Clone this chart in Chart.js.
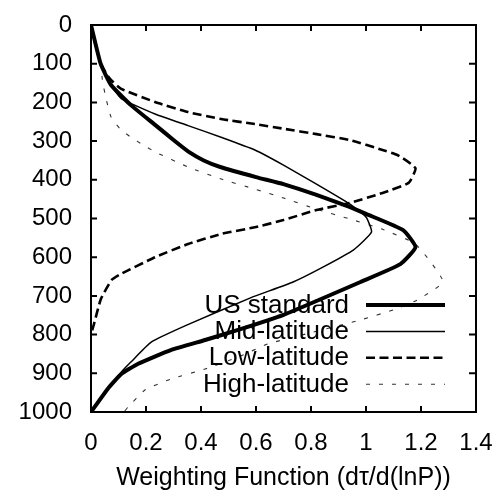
<!DOCTYPE html>
<html>
<head>
<meta charset="utf-8">
<script src="https://cdn.jsdelivr.net/npm/chart.js@4.4.1/dist/chart.umd.min.js"></script>
<style>
  body { margin: 0; background: #fff; }
  #wrap { width: 500px; height: 490px; }
</style>
</head>
<body>
<div id="wrap"><canvas id="wf-chart" width="500" height="490"></canvas></div>
<script>
// tick labels
const xTickLabels = ['0', '0.2', '0.4', '0.6', '0.8', '1', '1.2', '1.4'];
const yTickLabels = ['0', '100', '200', '300', '400', '500', '600', '700', '800', '900', '1000'];

const seriesNames = ['US standard', 'Mid-latitude', 'Low-latitude', 'High-latitude'];

// US standard: weighting function (x) vs pressure (hPa)
const usX = [0, 0.035, 0.073, 0.145, 0.233, 0.30, 0.36, 0.41, 0.47, 0.6, 0.7, 0.82, 0.94, 1.0, 1.135, 1.18, 1.125, 0.98, 0.7, 0.535, 0.415, 0.29, 0.17, 0.11, 0.06, 0];
const usP = [0, 100, 155, 207, 258, 297, 330, 350, 367, 393, 411, 439, 470, 488, 530, 574, 618, 664, 749, 788, 814, 840, 876, 902, 941, 1000];

// Mid-latitude
const midX = [0, 0.035, 0.073, 0.11, 0.233, 0.353, 0.473, 0.596, 0.7, 0.82, 0.94, 1.0, 1.02, 0.955, 0.845, 0.735, 0.58, 0.35, 0.22, 0.145, 0.11, 0.06, 0];
const midP = [0, 100, 155, 190, 230, 260, 290, 323, 362, 411, 462, 496, 535, 581, 625, 664, 705, 775, 819, 871, 897, 941, 1000];

// Low-latitude
const lowX = [0, 0.035, 0.07, 0.11, 0.233, 0.353, 0.473, 0.596, 0.7, 0.82, 0.94, 1.06, 1.115, 1.18, 1.155, 1.06, 0.94, 0.82, 0.7, 0.6, 0.473, 0.353, 0.233, 0.11, 0.075, 0.036, 0.01, 0];
const lowP = [0, 100, 140, 165, 199, 225, 243, 256, 268, 282, 297, 323, 336, 370, 408, 434, 460, 478, 504, 522, 540, 566, 600, 643, 659, 708, 775, 800];

// High-latitude
const highX = [0, 0.035, 0.042, 0.055, 0.073, 0.105, 0.145, 0.19, 0.233, 0.353, 0.473, 0.596, 0.7, 0.82, 0.94, 1.06, 1.18, 1.28, 1.185, 1.1, 0.98, 0.8, 0.644, 0.535, 0.415, 0.29, 0.196, 0.135, 0.12];
const highP = [0, 100, 145, 191, 238, 268, 290, 310, 328, 367, 398, 424, 447, 476, 501, 528, 566, 663, 711, 736, 762, 795, 824, 858, 889, 915, 943, 987, 1000];

function toPoints(xs, ps) {
  return xs.map((x, i) => ({ x: x, y: ps[i] }));
}

// pick the label whose number matches the tick value
function labelFor(labels, value) {
  return labels.find(l => Math.abs(Number(l) - value) < 1e-6);
}

const FONT = '"Liberation Sans", Arial, Helvetica, sans-serif';

// frame + inward tick marks
const framePlugin = {
  id: 'frame',
  afterDatasetsDraw(chart) {
    const ctx = chart.ctx;
    const a = chart.chartArea;
    const xs = chart.scales.x;
    const ys = chart.scales.y;
    ctx.save();
    ctx.strokeStyle = '#000';
    ctx.lineWidth = 2;
    ctx.strokeRect(a.left, a.top, a.right - a.left, a.bottom - a.top);
    ctx.beginPath();
    xs.ticks.forEach(t => {
      const px = xs.getPixelForValue(t.value);
      ctx.moveTo(px, a.top); ctx.lineTo(px, a.top + 6);
      ctx.moveTo(px, a.bottom); ctx.lineTo(px, a.bottom - 6);
    });
    ys.ticks.forEach(t => {
      const py = ys.getPixelForValue(t.value);
      ctx.moveTo(a.left, py); ctx.lineTo(a.left + 6, py);
      ctx.moveTo(a.right, py); ctx.lineTo(a.right - 7, py);
    });
    ctx.stroke();
    ctx.restore();
  }
};

// legend inside the plot, text right-aligned, sample line to the right
const legendPlugin = {
  id: 'insideLegend',
  afterDatasetsDraw(chart) {
    const ctx = chart.ctx;
    const a = chart.chartArea;
    const textRight = a.left + 258;
    const lineL = a.left + 275;
    const lineR = a.left + 354;
    ctx.save();
    ctx.font = '26px ' + FONT;
    ctx.textAlign = 'right';
    ctx.textBaseline = 'alphabetic';
    ctx.fillStyle = '#000';
    chart.data.datasets.forEach((ds, i) => {
      const y = a.top + 280 + i * 26.4;
      ctx.fillText(ds.label, textRight, y + 7.5);
      ctx.beginPath();
      ctx.strokeStyle = ds.borderColor;
      ctx.lineWidth = ds.borderWidth;
      ctx.setLineDash(ds.borderDash || []);
      ctx.moveTo(lineL, y);
      ctx.lineTo(lineR, y);
      ctx.stroke();
    });
    ctx.restore();
  }
};

const ctx = document.getElementById('wf-chart');

new Chart(ctx, {
  type: 'scatter',
  data: {
    datasets: [
      {
        label: seriesNames[0],
        data: toPoints(usX, usP),
        borderColor: '#000',
        borderWidth: 4,
        borderDash: []
      },
      {
        label: seriesNames[1],
        data: toPoints(midX, midP),
        borderColor: '#000',
        borderWidth: 1.5,
        borderDash: []
      },
      {
        label: seriesNames[2],
        data: toPoints(lowX, lowP),
        borderColor: '#000',
        borderWidth: 2.6,
        borderDash: [9, 4.5]
      },
      {
        label: seriesNames[3],
        data: toPoints(highX, highP),
        borderColor: '#333',
        borderWidth: 1.1,
        borderDash: [4, 9]
      }
    ]
  },
  options: {
    responsive: false,
    animation: false,
    showLine: true,
    elements: {
      point: { radius: 0, hoverRadius: 0 },
      line: { tension: 0.15, borderJoinStyle: 'round' }
    },
    layout: {
      padding: { top: 25, right: 24, left: 0, bottom: 0 }
    },
    scales: {
      x: {
        type: 'linear',
        position: 'bottom',
        min: 0,
        max: 1.4,
        grid: { display: false, drawTicks: false },
        border: { display: false },
        ticks: {
          stepSize: 0.2,
          padding: 17,
          color: '#000',
          font: { family: FONT, size: 24 },
          callback: function(value) {
            return labelFor(xTickLabels, value);
          }
        },
        title: {
          display: true,
          text: 'Weighting Function (d\u03c4/d(lnP))',
          color: '#000',
          font: { family: FONT, size: 25 },
          padding: { top: 0, bottom: -3 }
        },
        afterFit: function(scale) {
          scale.height = 78;
          scale.paddingLeft = 0;
          scale.paddingRight = 0;
        }
      },
      y: {
        type: 'linear',
        position: 'left',
        reverse: true,
        min: 0,
        max: 1000,
        grid: { display: false, drawTicks: false },
        border: { display: false },
        ticks: {
          stepSize: 100,
          padding: 19,
          color: '#000',
          font: { family: FONT, size: 24 },
          callback: function(value) {
            return labelFor(yTickLabels, value);
          }
        },
        afterFit: function(scale) {
          scale.width = 91;
          scale.paddingTop = 0;
          scale.paddingBottom = 0;
        }
      }
    },
    plugins: {
      legend: { display: false },
      tooltip: { enabled: false }
    }
  },
  plugins: [framePlugin, legendPlugin]
});
</script>
</body>
</html>
